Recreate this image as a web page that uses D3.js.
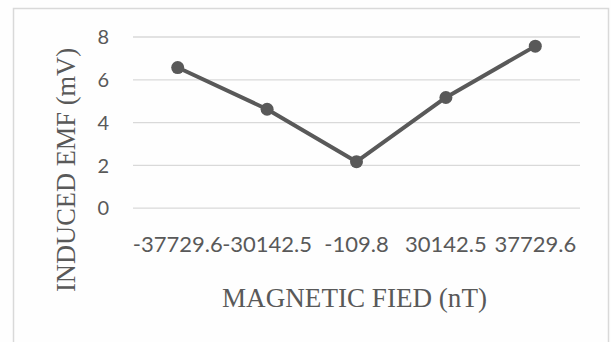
<!DOCTYPE html>
<html><head><meta charset="utf-8">
<script src="https://cdn.jsdelivr.net/npm/d3@7"></script>
<style>html,body{margin:0;padding:0;background:#fff;}</style>
</head><body>
<script>
const categories = ["-37729.6", "-30142.5", "-109.8", "30142.5", "37729.6"];
const emfValues = [6.55, 4.6, 2.15, 5.15, 7.55];
const yTicks = [0, 2, 4, 6, 8];
const xTitle = "MAGNETIC FIED (nT)";
const yTitle = "INDUCED EMF (mV)";

const W = 611, H = 342;
const svg = d3.select("body").append("svg").attr("width", W).attr("height", H);
svg.append("rect").attr("width", W).attr("height", H).attr("fill", "#fefefe");
svg.append("rect").attr("x", 13.5).attr("y", 8.5).attr("width", 595).attr("height", 345)
  .attr("fill", "#fefefe").attr("stroke", "#d9d9d9").attr("stroke-width", 1.5);

const plot = {left: 133, right: 580, top: 36.5, bottom: 207.7};
const x = d3.scaleBand().domain(categories).range([plot.left, plot.right]);
const y = d3.scaleLinear().domain([0, 8]).range([plot.bottom, plot.top]);

// gridlines
const yAxis = d3.axisLeft(y).tickValues(yTicks).tickSize(-(plot.right - plot.left)).tickPadding(24);
const gy = svg.append("g").attr("transform", `translate(${plot.left},0)`).call(yAxis);
gy.select(".domain").remove();
gy.selectAll(".tick line").attr("stroke", "#d9d9d9").attr("stroke-width", 1.3);
gy.selectAll(".tick text").attr("fill", "#595959").attr("font-family", "Lato, 'Open Sans', sans-serif")
  .attr("font-size", 20).attr("dy", "0.36em");

const xAxis = d3.axisBottom(x).tickSize(0).tickPadding(0);
const gx = svg.append("g").attr("transform", `translate(0,${plot.bottom})`).call(xAxis);
gx.select(".domain").remove();
gx.selectAll(".tick text").attr("fill", "#595959").attr("font-family", "Lato, 'Open Sans', sans-serif")
  .attr("font-size", 22).attr("dy", 0).attr("y", 44.5);

// line
const line = d3.line().x((d, i) => x(categories[i]) + x.bandwidth() / 2).y(d => y(d));
svg.append("path").datum(emfValues).attr("d", line).attr("fill", "none")
  .attr("stroke", "#595959").attr("stroke-width", 4).attr("stroke-linejoin", "round");
svg.selectAll("circle.pt").data(emfValues).enter().append("circle")
  .attr("cx", (d, i) => x(categories[i]) + x.bandwidth() / 2).attr("cy", d => y(d))
  .attr("r", 6.5).attr("fill", "#595959");

// titles
svg.append("text").attr("x", 354.5).attr("y", 306.5).attr("text-anchor", "middle")
  .attr("font-family", "'Liberation Serif', 'Times New Roman', serif").attr("font-size", 28)
  .attr("fill", "#595959").attr("textLength", 265).attr("lengthAdjust", "spacingAndGlyphs").text(xTitle);
svg.append("text").attr("transform", "translate(75,170) rotate(-90)").attr("text-anchor", "middle")
  .attr("font-family", "'Liberation Serif', 'Times New Roman', serif").attr("font-size", 28)
  .attr("fill", "#595959").attr("textLength", 244).attr("lengthAdjust", "spacingAndGlyphs").text(yTitle);
</script>
</body></html>
